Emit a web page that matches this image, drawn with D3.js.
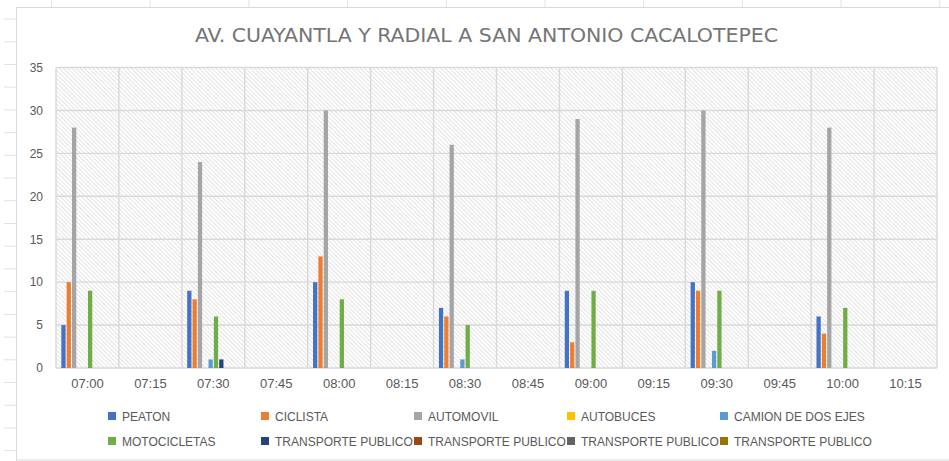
<!DOCTYPE html>
<html>
<head>
<meta charset="utf-8">
<script src="https://cdn.jsdelivr.net/npm/d3@7"></script>
<style>
  html, body { margin: 0; padding: 0; background: #fff; }
  svg { display: block; }
</style>
</head>
<body>
<svg id="chart" width="949" height="461"></svg>
<script>
// ---- data ----
const title = "AV. CUAYANTLA Y RADIAL A SAN ANTONIO CACALOTEPEC";
const categories = ["07:00","07:15","07:30","07:45","08:00","08:15","08:30","08:45","09:00","09:15","09:30","09:45","10:00","10:15"];
const seriesNames = ["PEATON","CICLISTA","AUTOMOVIL","AUTOBUCES","CAMION DE DOS EJES","MOTOCICLETAS","TRANSPORTE PUBLICO","TRANSPORTE PUBLICO ","TRANSPORTE PUBLICO  ","TRANSPORTE PUBLICO   "];
const seriesColors = ["#4472C4","#ED7D31","#A5A5A5","#FFC000","#5B9BD5","#70AD47","#264478","#9E480E","#636363","#997300"];
const peaton    = [5,0,9,0,10,0,7,0,9,0,10,0,6,0];
const ciclista  = [10,0,8,0,13,0,6,0,3,0,9,0,4,0];
const automovil = [28,0,24,0,30,0,26,0,29,0,30,0,28,0];
const autobuces = [0,0,0,0,0,0,0,0,0,0,0,0,0,0];
const camion    = [0,0,1,0,0,0,1,0,0,0,2,0,0,0];
const moto      = [9,0,6,0,8,0,5,0,9,0,9,0,7,0];
const tp1       = [0,0,1,0,0,0,0,0,0,0,0,0,0,0];
const tp2       = [0,0,0,0,0,0,0,0,0,0,0,0,0,0];
const tp3       = [0,0,0,0,0,0,0,0,0,0,0,0,0,0];
const tp4       = [0,0,0,0,0,0,0,0,0,0,0,0,0,0];
const seriesValues = [peaton, ciclista, automovil, autobuces, camion, moto, tp1, tp2, tp3, tp4];
const yTicks = [0,5,10,15,20,25,30,35];

// ---- layout ----
const svg = d3.select("#chart");
const plot = {left: 56, right: 937, top: 67.5, bottom: 368};
const textColor = "#595959";
const gridColor = "#d9d9d9";

// spreadsheet background lines
const bg = svg.append("g");
d3.range(0, 20).forEach(k => {
  const y = 19 + k * 22.72;
  bg.append("line").attr("x1", 4).attr("x2", 17).attr("y1", y).attr("y2", y)
    .attr("stroke", "#e2e2e2").attr("stroke-width", 1);
});
d3.range(0, 10).forEach(k => {
  const x = 51.5 + k * 98.7;
  bg.append("line").attr("x1", x).attr("x2", x).attr("y1", 0).attr("y2", 7)
    .attr("stroke", "#e2e2e2").attr("stroke-width", 1);
});

// chart area
svg.append("rect").attr("x", 16.5).attr("y", 7.5).attr("width", 960).attr("height", 452.5)
  .attr("fill", "#fff").attr("stroke", "#d9d9d9").attr("stroke-width", 1);

// hatch pattern
const defs = svg.append("defs");
const pat = defs.append("pattern").attr("id", "hatch").attr("patternUnits", "userSpaceOnUse")
  .attr("width", 3).attr("height", 3).attr("patternTransform", "rotate(45)");
pat.append("rect").attr("width", 3).attr("height", 3).attr("fill", "#ffffff");
pat.append("line").attr("x1", 0).attr("x2", 3).attr("y1", 0.5).attr("y2", 0.5)
  .attr("stroke", "#dcdcdc").attr("stroke-width", 0.8);

// scales
const x0 = d3.scaleBand().domain(categories).range([plot.left, plot.right]).padding(0);
const x1 = d3.scaleBand().domain(seriesNames).range([0, x0.bandwidth()]).paddingInner(0.2).paddingOuter(1.0);
const y = d3.scaleLinear().domain([0, 35]).range([plot.bottom, plot.top]);

// plot background
svg.append("rect").attr("x", plot.left).attr("y", plot.top)
  .attr("width", plot.right - plot.left).attr("height", plot.bottom - plot.top)
  .attr("fill", "url(#hatch)");

// gridlines
const grid = svg.append("g");
yTicks.forEach(t => {
  grid.append("line").attr("x1", plot.left).attr("x2", plot.right)
    .attr("y1", y(t)).attr("y2", y(t)).attr("stroke", gridColor).attr("stroke-width", 1.4);
});
categories.forEach((c, i) => {
  const xx = x0(c);
  grid.append("line").attr("x1", xx).attr("x2", xx).attr("y1", plot.top).attr("y2", plot.bottom)
    .attr("stroke", gridColor).attr("stroke-width", 1.4);
});
grid.append("line").attr("x1", plot.right).attr("x2", plot.right).attr("y1", plot.top).attr("y2", plot.bottom)
  .attr("stroke", gridColor).attr("stroke-width", 1.4);

// bars
const rows = categories.map((c, i) => ({cat: c, vals: seriesNames.map((s, j) => ({s, j, v: seriesValues[j][i]}))}));
const gBars = svg.append("g");
gBars.selectAll("g.cat").data(rows).join("g").attr("class", "cat")
  .attr("transform", d => `translate(${x0(d.cat)},0)`)
  .selectAll("rect").data(d => d.vals.filter(v => v.v > 0)).join("rect")
  .attr("x", d => x1(d.s)).attr("width", x1.bandwidth())
  .attr("y", d => y(d.v)).attr("height", d => y(0) - y(d.v))
  .attr("fill", d => seriesColors[d.j]);

// y axis labels
const yAxis = d3.axisLeft(y).tickValues(yTicks).tickSize(0).tickPadding(0);
const gy = svg.append("g").attr("transform", `translate(${plot.left - 13},0)`).call(yAxis);
gy.select(".domain").remove();
gy.selectAll("text").attr("fill", textColor).style("font-family", "'Liberation Sans', Arial, sans-serif").style("font-size", "12px");

// x axis labels
const xAxis = d3.axisBottom(x0).tickSize(0).tickPadding(0);
const gx = svg.append("g").attr("transform", `translate(0,${plot.bottom + 11})`).call(xAxis);
gx.select(".domain").remove();
gx.selectAll("text").attr("fill", textColor).style("font-family", "'Liberation Sans', Arial, sans-serif").style("font-size", "13px");

// title
svg.append("text").attr("x", 486.5).attr("y", 42).attr("text-anchor", "middle")
  .attr("fill", "#757575")
  .style("font-family", "'DejaVu Sans Condensed', 'Liberation Sans', sans-serif")
  .style("font-size", "19px")
  .attr("textLength", 583).attr("lengthAdjust", "spacingAndGlyphs")
  .text(title);

// legend
const legendX = d3.scaleLinear().domain([0, 4]).range([108, 720]);
const legendY = [416, 441];
const gl = svg.append("g");
seriesNames.forEach((s, j) => {
  const col = j % 5, row = Math.floor(j / 5);
  const lx = legendX(col), ly = legendY[row];
  gl.append("rect").attr("x", lx).attr("y", ly - 4).attr("width", 8).attr("height", 8)
    .attr("fill", seriesColors[j]);
  gl.append("text").attr("x", lx + 14).attr("y", ly + 4.5)
    .attr("fill", textColor)
    .style("font-family", "'Liberation Sans', Arial, sans-serif").style("font-size", "12px")
    .text(s.trim());
});
</script>
</body>
</html>
